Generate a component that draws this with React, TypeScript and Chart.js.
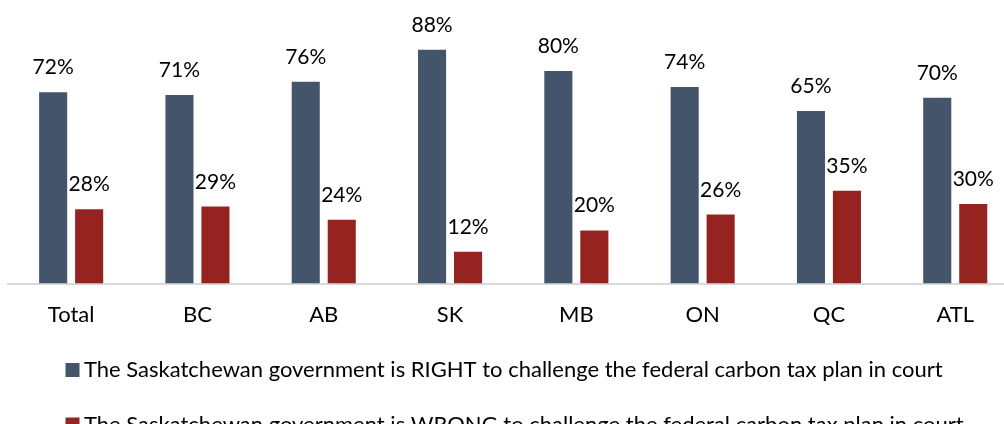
import React, { useEffect, useRef } from "react";
import { Chart, registerables } from "chart.js";

Chart.register(...registerables);

const categories = ["Total", "BC", "AB", "SK", "MB", "ON", "QC", "ATL"];
const rightValues = [72, 71, 76, 88, 80, 74, 65, 70];
const wrongValues = [28, 29, 24, 12, 20, 26, 35, 30];
const seriesLabels = [
  "The Saskatchewan government is RIGHT to challenge the federal carbon tax plan in court",
  "The Saskatchewan government is WRONG to challenge the federal carbon tax plan in court",
];
const seriesColors = ["#44546A", "#952421"];

const FONT = "Lato, 'Open Sans', sans-serif";

const dataLabelPlugin = {
  id: "dataLabels",
  afterDatasetsDraw(chart: any) {
    const ctx = chart.ctx;
    ctx.save();
    ctx.font = `21px ${FONT}`;
    ctx.fillStyle = "#000000";
    ctx.textAlign = "center";
    ctx.textBaseline = "alphabetic";
    chart.data.datasets.forEach((ds: any, di: number) => {
      const meta = chart.getDatasetMeta(di);
      meta.data.forEach((bar: any, i: number) => {
        ctx.fillText(`${ds.data[i]}%`, bar.x, bar.y - 18);
      });
    });
    ctx.restore();
  },
};

const legendPlugin = {
  id: "customLegend",
  afterDraw(chart: any) {
    const ctx = chart.ctx;
    ctx.save();
    ctx.font = `22px ${FONT}`;
    ctx.textAlign = "left";
    ctx.textBaseline = "alphabetic";
    chart.data.datasets.forEach((ds: any, di: number) => {
      const top = 363 + di * 54.5;
      ctx.fillStyle = ds.backgroundColor;
      ctx.fillRect(65.5, top, 14, 14);
      ctx.fillStyle = "#000000";
      ctx.fillText(ds.label, 84, top + 14);
    });
    ctx.restore();
  },
};

export default function App() {
  const ref = useRef<HTMLCanvasElement | null>(null);
  useEffect(() => {
    if (!ref.current) return;
    const chart = new Chart(ref.current, {
      type: "bar",
      data: {
        labels: categories,
        datasets: [
          {
            label: seriesLabels[0],
            data: rightValues,
            backgroundColor: seriesColors[0],
            categoryPercentage: 0.57,
            barPercentage: 0.78,
          },
          {
            label: seriesLabels[1],
            data: wrongValues,
            backgroundColor: seriesColors[1],
            categoryPercentage: 0.57,
            barPercentage: 0.78,
          },
        ],
      },
      options: {
        animation: false,
        responsive: false,
        devicePixelRatio: 1,
        layout: { padding: { left: 8, right: 1.6, top: 18, bottom: 78 } },
        plugins: {
          legend: { display: false },
          tooltip: { enabled: false },
        },
        scales: {
          x: {
            grid: { display: false, drawTicks: false },
            border: { display: true, color: "#d9d9d9", width: 2 },
            ticks: {
              color: "#000000",
              font: { family: FONT, size: 22 },
              padding: 18,
            },
          },
          y: {
            display: false,
            min: 0,
            max: 100,
          },
        },
      },
      plugins: [dataLabelPlugin, legendPlugin],
    });
    return () => chart.destroy();
  }, []);

  return (
    <div
      style={{
        position: "fixed",
        left: 0,
        top: 0,
        width: 1004,
        height: 424,
        overflow: "hidden",
        background: "#ffffff",
      }}
    >
      <canvas ref={ref} width={1020} height={424} style={{ width: 1020, height: 424, display: "block" }} />
    </div>
  );
}
